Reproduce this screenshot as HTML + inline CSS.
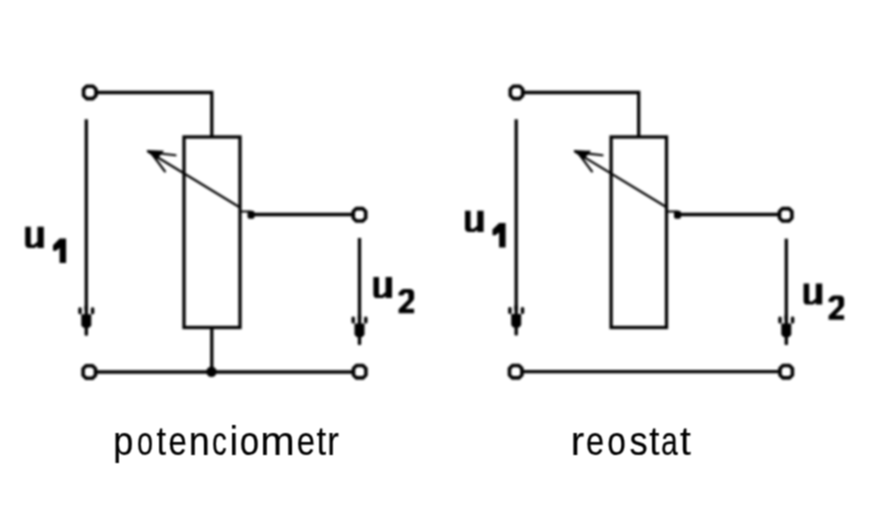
<!DOCTYPE html>
<html><head><meta charset="utf-8"><style>
html,body{margin:0;padding:0;background:#fff;width:882px;height:515px;overflow:hidden}
svg{display:block}
</style></head><body>
<svg width="882" height="515" viewBox="0 0 882 515">
<defs>
<filter id="bl" x="0" y="0" width="882" height="515" filterUnits="userSpaceOnUse"><feGaussianBlur stdDeviation="1"/></filter>
<filter id="bl2" x="0" y="0" width="882" height="515" filterUnits="userSpaceOnUse"><feConvolveMatrix order="3" kernelMatrix="1 2 1 2 4 2 1 2 1" divisor="16"/></filter>
<g id="ah"><rect x="-8" y="0" width="3.4" height="7" rx="1.5"/><rect x="4.6" y="0" width="3.4" height="7" rx="1.5"/><path d="M-5 7H5V18L3 20.5H-3L-5 18Z"/><rect x="-1.7" y="-2" width="3.4" height="30.5" rx="1.2"/></g>
</defs>
<rect width="882" height="515" fill="#fff"/>
<g filter="url(#bl)">
<g fill="none" stroke="#000" stroke-width="3.3">
<path stroke-width="3.6" stroke-linejoin="round" d="M86.60 86.20 L93.00 86.20 L96.00 89.20 L96.00 95.60 L93.00 98.60 L86.60 98.60 L83.60 95.60 L83.60 89.20Z"/>
<path d="M96.3 92.5H211.8V137"/>
<rect x="184" y="137" width="56" height="190.5"/>
<path d="M211.8 327.5V372"/>
<path d="M96 372H352.7"/>
<path stroke-width="3.6" stroke-linejoin="round" d="M356.50 365.50 L362.90 365.50 L365.90 368.50 L365.90 374.90 L362.90 377.90 L356.50 377.90 L353.50 374.90 L353.50 368.50Z"/>
<path stroke-width="3.6" stroke-linejoin="round" d="M86.10 365.80 L92.50 365.80 L95.50 368.80 L95.50 375.20 L92.50 378.20 L86.10 378.20 L83.10 375.20 L83.10 368.80Z"/>
<path stroke-width="3.6" stroke-linejoin="round" d="M356.30 208.60 L362.70 208.60 L365.70 211.60 L365.70 218.00 L362.70 221.00 L356.30 221.00 L353.30 218.00 L353.30 211.60Z"/>
<path d="M251 214.5H353"/>
<path d="M86.3 119.3V310"/>
<path d="M359.5 238V320"/>
<path stroke-width="3.6" stroke-linejoin="round" d="M513.30 86.20 L519.70 86.20 L522.70 89.20 L522.70 95.60 L519.70 98.60 L513.30 98.60 L510.30 95.60 L510.30 89.20Z"/>
<path d="M523 92.5H638.7V137"/>
<rect x="611.1" y="137" width="55.4" height="190.5"/>
<path d="M522.5 371.7H779.7"/>
<path stroke-width="3.6" stroke-linejoin="round" d="M512.50 365.50 L518.90 365.50 L521.90 368.50 L521.90 374.90 L518.90 377.90 L512.50 377.90 L509.50 374.90 L509.50 368.50Z"/>
<path stroke-width="3.6" stroke-linejoin="round" d="M783.00 365.50 L789.40 365.50 L792.40 368.50 L792.40 374.90 L789.40 377.90 L783.00 377.90 L780.00 374.90 L780.00 368.50Z"/>
<path stroke-width="3.6" stroke-linejoin="round" d="M782.50 208.60 L788.90 208.60 L791.90 211.60 L791.90 218.00 L788.90 221.00 L782.50 221.00 L779.50 218.00 L779.50 211.60Z"/>
<path d="M677.5 214.5H779.2"/>
<path d="M516.2 119.3V310"/>
<path d="M786.3 238.7V320"/>
</g>
<g fill="none" stroke="#000" stroke-width="2.1" stroke-linecap="round">
<path stroke-width="2.2" d="M148 151.5L240 207.5"/><path d="M240 211.5H250"/>
<path d="M158 153.2L175.5 155.3M152 154L165 171.5"/>
<path stroke-width="2.2" d="M575 151.5L667 207.5"/><path d="M667 211.5H677"/>
<path d="M585 153.2L602.5 155.3M579 154L592 171.5"/>
</g>
<g fill="#000">
<circle cx="211.5" cy="371.8" r="5.2"/>
<rect x="247.5" y="210.8" width="7" height="8" rx="2"/>
<rect x="674" y="210.8" width="7" height="8" rx="2"/>
<path d="M146.5 150L164 150.8L156.5 160Z"/>
<path d="M573.5 150L591 150.8L583.5 160Z"/>
<use href="#ah" x="86.3" y="307.2"/>
<use href="#ah" x="359.5" y="316.6"/>
<use href="#ah" x="516.2" y="307"/>
<use href="#ah" x="786.3" y="316.6"/>
<path transform="translate(25.2,226.3)" d="M0 0.5H5.6V17Q5.6 18.4 7 18.4H8.4L12.2 15.4V0.5H18.6V21.6H12.2V19.4L9.6 21.6H4Q0 21.6 0 17.7Z"/>
<path transform="translate(53,238.6)" d="M6.6 0H13.1V24.4H6.6V9.5L3 12.2H0V6.6Z"/>
<path transform="translate(373.4,276.5)" d="M0 0.5H5.6V17Q5.6 18.4 7 18.4H8.4L12.2 15.4V0.5H18.6V21.6H12.2V19.4L9.6 21.6H4Q0 21.6 0 17.7Z"/>
<path transform="translate(398.6,289)" d="M0 3.8L3 0.8Q4 0 5.5 0H11Q15.5 0 15.5 4.5V9.3Q15.5 10.8 14 12.3L6.8 19.7H15.5V24.2H0V20.3L9.8 10.4V5.6Q9.8 4.1 8.6 4.1H6.5L4.6 6.6H0Z"/>
<path transform="translate(465,210.3)" d="M0 0.5H5.6V17Q5.6 18.4 7 18.4H8.4L12.2 15.4V0.5H18.6V21.6H12.2V19.4L9.6 21.6H4Q0 21.6 0 17.7Z"/>
<path transform="translate(492.5,223)" d="M6.6 0H13.1V24.4H6.6V9.5L3 12.2H0V6.6Z"/>
<path transform="translate(803.6,283)" d="M0 0.5H5.6V17Q5.6 18.4 7 18.4H8.4L12.2 15.4V0.5H18.6V21.6H12.2V19.4L9.6 21.6H4Q0 21.6 0 17.7Z"/>
<path transform="translate(828.6,295.5)" d="M0 3.8L3 0.8Q4 0 5.5 0H11Q15.5 0 15.5 4.5V9.3Q15.5 10.8 14 12.3L6.8 19.7H15.5V24.2H0V20.3L9.8 10.4V5.6Q9.8 4.1 8.6 4.1H6.5L4.6 6.6H0Z"/>
</g>
</g>
<g font-family="Liberation Sans" font-size="100" fill="#000" stroke="#000" stroke-width="0.5" filter="url(#bl2)">
<text transform="translate(113.37,455.0) scale(0.361,0.405)">p</text>
<text transform="translate(136.94,455.0) scale(0.289,0.405)">o</text>
<text transform="translate(156.51,455.0) scale(0.344,0.405)">t</text>
<text transform="translate(168.59,455.0) scale(0.328,0.405)">e</text>
<text transform="translate(188.65,455.0) scale(0.379,0.405)">n</text>
<text transform="translate(211.92,455.0) scale(0.295,0.405)">c</text>
<text transform="translate(229.49,455.0) scale(0.388,0.405)">i</text>
<text transform="translate(239.80,455.0) scale(0.349,0.405)">o</text>
<text transform="translate(260.30,455.0) scale(0.414,0.405)">m</text>
<text transform="translate(296.79,455.0) scale(0.328,0.405)">e</text>
<text transform="translate(316.40,455.0) scale(0.348,0.405)">t</text>
<text transform="translate(327.36,455.0) scale(0.348,0.405)">r</text>
<text transform="translate(570.87,455.0) scale(0.404,0.405)">r</text>
<text transform="translate(586.00,455.0) scale(0.326,0.405)">e</text>
<text transform="translate(607.36,455.0) scale(0.334,0.405)">o</text>
<text transform="translate(629.60,455.0) scale(0.365,0.405)">s</text>
<text transform="translate(649.16,455.0) scale(0.368,0.405)">t</text>
<text transform="translate(660.99,455.0) scale(0.302,0.405)">a</text>
<text transform="translate(680.12,455.0) scale(0.388,0.405)">t</text>
</g>
</svg>
</body></html>
